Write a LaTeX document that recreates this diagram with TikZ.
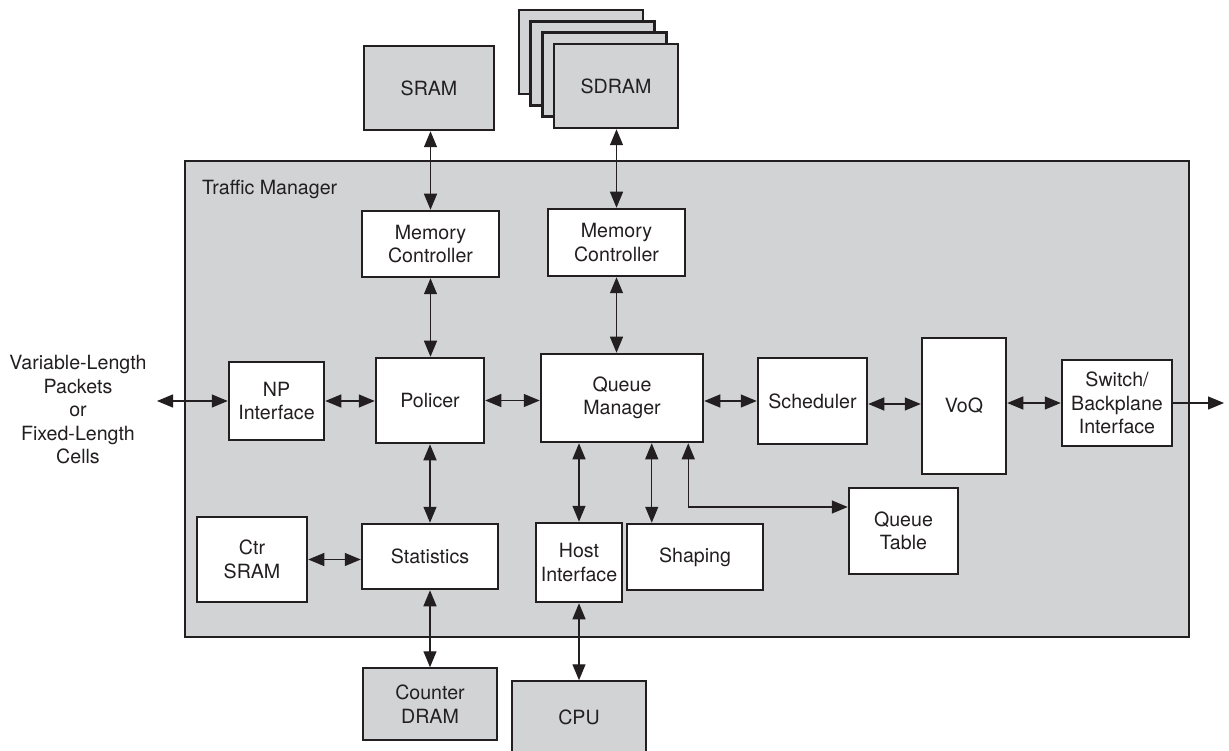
\documentclass[tikz,border=0pt]{standalone}
\usepackage{fontspec}
\setmainfont{TeX Gyre Heros}
\usepackage{tikz}
\usetikzlibrary{arrows.meta}
\definecolor{ink}{RGB}{35,31,32}
\definecolor{tmgray}{RGB}{209,211,212}

\begin{document}
\begin{tikzpicture}[x=1pt,y=-1pt,>={Triangle[length=16pt,width=13pt]},
    every node/.style={font=\fontsize{19.6}{23.5}\selectfont,text=ink},
    blk/.style={draw=ink,line width=2.5pt,fill=white,inner sep=0pt,align=center},
    mem/.style={blk,fill=tmgray},
    wh/.style 2 args={minimum width=#1pt,minimum height=#2pt},
    link/.style={draw=ink,line width=1.3pt,<->}]

\clip (0,0) rectangle (1229,751);
\fill[white] (0,0) rectangle (1229,751);

% memories above the chip
\node[mem,wh={130}{84}] (sram) at (429,88) {SRAM};
\foreach \k in {3,2,1}
    \node[mem,wh={124}{84}] (sdram\k) at (616-11.7*\k,86-11.3*\k) {};
\node[mem,wh={124}{84}] (sdram) at (616,86) {SDRAM};

% the traffic manager itself
\draw[ink,fill=tmgray,line width=2.5pt] (185,161) rectangle (1189,637);
\node[anchor=west,inner sep=0pt] (tmname) at (202,189) {Traffic Manager};

\node[blk,wh={137}{66}] (mcA) at (430.5,244) {Memory\\Controller};
\node[blk,wh={137}{67}] (mcB) at (616.5,242.5) {Memory\\Controller};

\node[blk,wh={95}{78}] (np) at (276.5,401) {NP\\Interface};
\node[blk,wh={108}{85}] (pol) at (430,400.5) {Policer};
\node[blk,wh={162}{88}] (qm) at (622,398) {Queue\\Manager};
\node[blk,wh={109}{86}] (sched) at (812.5,401) {Scheduler};
\node[blk,wh={84}{136}] (voq) at (964,406) {VoQ};
\node[blk,wh={110}{86}] (sw) at (1117,403) {Switch/\\Backplane\\Interface};

\node[blk,wh={110}{85}] (ctr) at (252,559.5) {Ctr\\SRAM};
\node[blk,wh={136}{65}] (stats) at (430,556.5) {Statistics};
\node[blk,wh={86}{79}] (host) at (579,562.5) {Host\\Interface};
\node[blk,wh={136}{66}] (shape) at (695,557) {Shaping};
\node[blk,wh={109}{86}] (qtab) at (903.5,531) {Queue\\Table};

% below the chip
\node[mem,line width=1.5pt,wh={134}{72}] (cdram) at (430,704) {Counter\\DRAM};
\node[mem,line width=1.5pt,wh={134}{72}] (cpu) at (579,717) {CPU};

% line side
\node[align=center,inner sep=0pt] (pkts) at (78,410)
    {Variable-Length\\Packets\\or\\Fixed-Length\\Cells};
\coordinate (ext) at (157,401);
\coordinate (out) at (1224,403);

% connectors
\draw[link] (ext) -- (np.west);
\draw[link] (np.east) -- (np.east -| pol.west);
\draw[link] (pol.east) -- (pol.east -| qm.west);
\draw[link] (sched.west -| qm.east) -- (sched.west);
\draw[link] ([yshift=-3pt]sched.east) -- ([yshift=-3pt]sched.east -| voq.west);
\draw[link] (voq.east |- sw.west) -- (sw.west);
\draw[draw=ink,line width=1.3pt,->] (sw.east) -- (out);

\draw[link] (mcA.north |- sram.south) -- (mcA.north);
\draw[link] (mcB.north |- sdram.south) -- (mcB.north);
\draw[link] (mcA.south) -- (mcA.south |- pol.north);
\draw[link] (mcB.south) -- (mcB.south |- qm.north);

\draw[link] (pol.south) -- (stats.north);
\draw[link] (stats.south) -- (cdram.north);
\draw[link] (ctr.east) -- (ctr.east -| stats.west);

\draw[link] (host.north |- qm.south) -- (host.north);
\draw[link] ([xshift=26pt]shape.north west |- qm.south) -- ([xshift=26pt]shape.north west);
\draw[link] (host.south) -- (cpu.north);
\draw[link] ([xshift=-16pt]qm.south east) |- ([yshift=24pt]qtab.west);

\end{tikzpicture}
\end{document}
